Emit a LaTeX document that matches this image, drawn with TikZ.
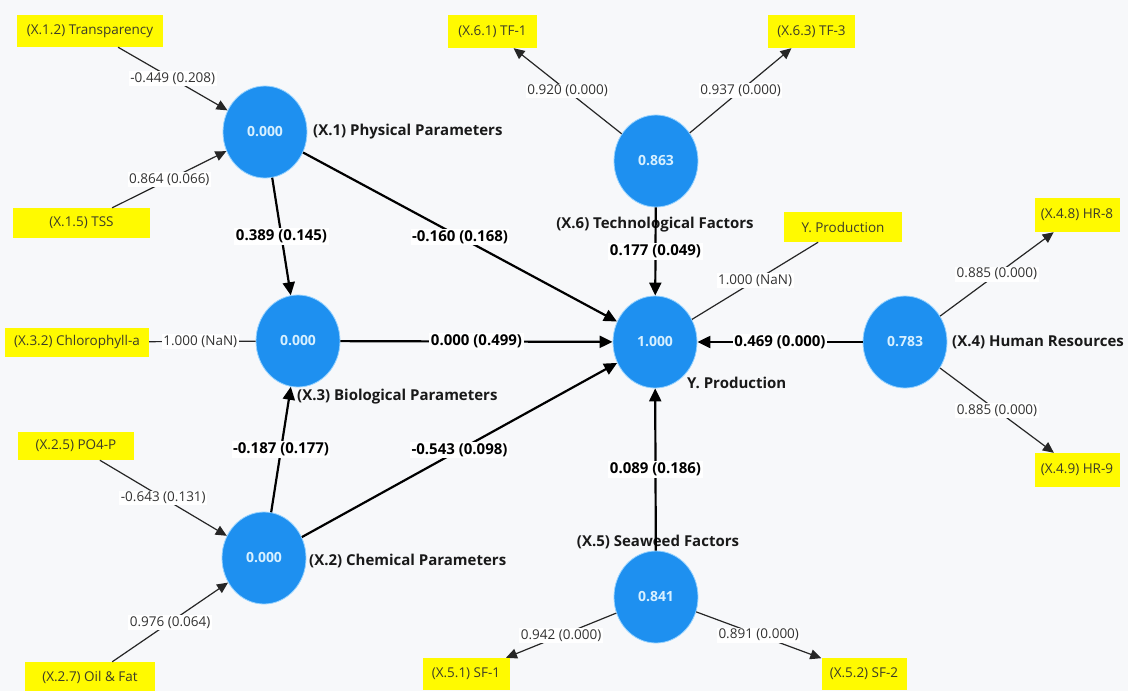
\documentclass[tikz,border=0pt]{standalone}
\usepackage{fontspec}
\setmainfont{Open Sans}
\usetikzlibrary{shapes.geometric,arrows.meta}
\definecolor{bgc}{RGB}{247,248,250}
\definecolor{lvblue}{RGB}{30,144,240}
\definecolor{lvedge}{RGB}{150,210,255}
\definecolor{lvtext}{RGB}{215,240,255}
\definecolor{indyellow}{RGB}{255,250,0}
\definecolor{indtext}{RGB}{60,60,40}
\definecolor{labtext}{RGB}{50,50,50}
\tikzset{
  lv/.style={ellipse, minimum width=84pt, minimum height=92pt, inner sep=0pt,
    fill=lvblue, draw=lvedge, line width=0.8pt, text=lvtext,
    font=\bfseries\fontsize{14}{16}\selectfont},
  ind/.style={rectangle, fill=indyellow, inner sep=0pt, text=indtext,
    font=\fontsize{13.5}{16}\selectfont},
  mv/.style={line width=1.2pt, draw=black!85},
  mvarr/.style={mv, -{Triangle[length=11pt,width=10pt]}},
  sp/.style={line width=2.2pt, draw=black, -{Triangle[length=13pt,width=12pt]}},
  mlab/.style={fill=white, inner sep=1.5pt, text=labtext,
    font=\fontsize{13.5}{16}\selectfont},
  slab/.style={fill=white, inner sep=1.5pt, text=black,
    font=\bfseries\fontsize{15}{17}\selectfont},
  lvname/.style={text=black!90, inner sep=0pt,
    font=\bfseries\fontsize{15}{17}\selectfont},
}
\begin{document}
\begin{tikzpicture}[x=1pt,y=-1pt]
\fill[bgc] (0,0) rectangle (1128,691);
\useasboundingbox (0,0) rectangle (1128,691);
\clip (0,0) rectangle (1128,691);

% construct name labels (under the lines)
\node[lvname, anchor=west] (n1) at (313,132) {(X.1) Physical Parameters};
\node[lvname, anchor=west] (n3) at (297,397) {(X.3) Biological Parameters};
\node[lvname, anchor=west] (n2) at (309,561) {(X.2) Chemical Parameters};
\node[lvname] (n6) at (655,225) {(X.6) Technological Factors};
\node[lvname, anchor=west] (ny) at (687,383) {Y. Production};
\node[lvname, anchor=west] (n4) at (952,342) {(X.4) Human Resources};
\node[lvname] (n5) at (658,542) {(X.5) Seaweed Factors};

% latent variables
\node[lv] (x1) at (265,132) {0.000};
\node[lv] (x3) at (298,341) {0.000};
\node[lv] (x2) at (264,558) {0.000};
\node[lv] (x6) at (656,161) {0.863};
\node[lv] (y)  at (655,342) {1.000};
\node[lv] (x4) at (905,342) {0.783};
\node[lv] (x5) at (656,597) {0.841};

% indicators
\node[ind, minimum width=146pt, minimum height=32pt] (t12) at (90,31) {(X.1.2) Transparency};
\node[ind, minimum width=137pt, minimum height=30pt] (t15) at (81.5,223) {(X.1.5) TSS};
\node[ind, minimum width=89pt, minimum height=33pt] (tf1) at (492.5,31.5) {(X.6.1) TF-1};
\node[ind, minimum width=87pt, minimum height=33pt] (tf3) at (811.5,31.5) {(X.6.3) TF-3};
\node[ind, minimum width=118pt, minimum height=30pt] (yp) at (843,227) {Y. Production};
\node[ind, minimum width=85pt, minimum height=34pt] (hr8) at (1077,215) {(X.4.8) HR-8};
\node[ind, minimum width=85pt, minimum height=34pt] (hr9) at (1077,470) {(X.4.9) HR-9};
\node[ind, minimum width=144pt, minimum height=29pt] (chl) at (77,342) {(X.3.2) Chlorophyll-a};
\node[ind, minimum width=116pt, minimum height=28pt] (po4) at (76,446) {(X.2.5) PO4-P};
\node[ind, minimum width=130pt, minimum height=30pt] (oil) at (90,677) {(X.2.7) Oil \& Fat};
\node[ind, minimum width=87pt, minimum height=32pt] (sf1) at (466,674) {(X.5.1) SF-1};
\node[ind, minimum width=85pt, minimum height=32pt] (sf2) at (864,674) {(X.5.2) SF-2};

% measurement model
\draw[mvarr] (t12) -- node[mlab] {-0.449 (0.208)} (x1);
\draw[mvarr] (t15) -- node[mlab] {0.864 (0.066)} (x1);
\draw[mvarr] (po4) -- node[mlab] {-0.643 (0.131)} (x2);
\draw[mvarr] (oil) -- node[mlab] {0.976 (0.064)} (x2);
\draw[mv] (chl) -- node[mlab, pos=0.48] {1.000 (NaN)} (x3);
\draw[mv] (yp) -- node[mlab] {1.000 (NaN)} (y);
\draw[mvarr] (x6) -- node[mlab] {0.920 (0.000)} (tf1);
\draw[mvarr] (x6) -- node[mlab] {0.937 (0.000)} (tf3);
\draw[mvarr] (x4) -- node[mlab] {0.885 (0.000)} (hr8);
\draw[mvarr] (x4) -- node[mlab] {0.885 (0.000)} (hr9);
\draw[mvarr] (x5) -- node[mlab] {0.942 (0.000)} (sf1);
\draw[mvarr] (x5) -- node[mlab] {0.891 (0.000)} (sf2);

% structural model
\draw[sp] (x1) -- node[slab] {0.389 (0.145)} (x3);
\draw[sp] (x1) -- node[slab] {-0.160 (0.168)} (y);
\draw[sp] (x3) -- node[slab] {0.000 (0.499)} (y);
\draw[sp] (x2) -- node[slab] {-0.187 (0.177)} (x3);
\draw[sp] (x2) -- node[slab] {-0.543 (0.098)} (y);
\draw[sp] (x6) -- node[slab] {0.177 (0.049)} (y);
\draw[sp] (x4) -- node[slab] {0.469 (0.000)} (y);
\draw[sp] (x5) -- node[slab] {0.089 (0.186)} (y);
\end{tikzpicture}
\end{document}
